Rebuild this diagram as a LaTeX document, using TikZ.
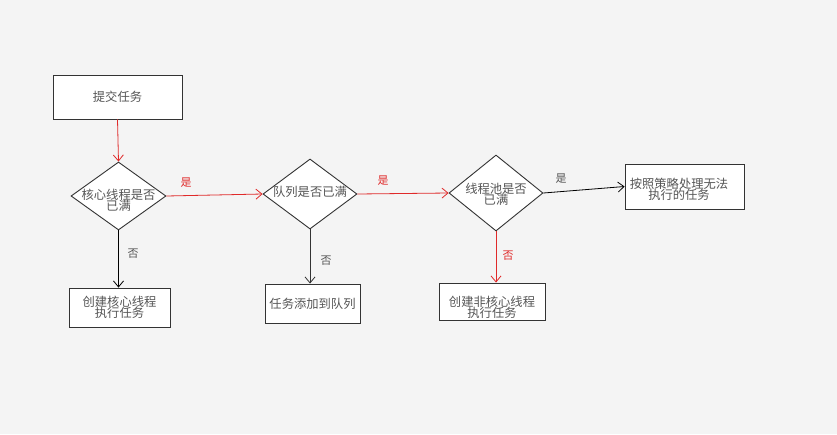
\documentclass[tikz,border=0pt]{standalone}
\usepackage{fontspec}
\newfontfamily\cjk{Noto Sans CJK SC}
\usetikzlibrary{shapes.geometric,arrows.meta}
\definecolor{bg}{HTML}{F4F4F4}
\definecolor{ink}{HTML}{555555}
\definecolor{edge}{HTML}{333333}
\definecolor{flowred}{HTML}{E02A2A}
% compact two-line captions
\newcommand{\tightcjk}{\cjk\fontsize{12.3}{11}\selectfont\lineskiplimit=-20pt\relax\lineskip=0pt\relax}
\tikzset{
  box/.style={draw=edge, fill=white, line width=0.9pt, inner sep=0pt},
  decision/.style={diamond, draw=edge, fill=white, line width=0.9pt, inner sep=0pt},
  txt/.style={text=ink, font=\tightcjk, align=center, inner sep=0pt},
  lbl/.style={font=\cjk\fontsize{11}{11}\selectfont, inner sep=0pt},
  link/.style={-{Straight Barb[length=6pt,width=10pt]}, line width=0.8pt},
}
\begin{document}
\begin{tikzpicture}[x=1pt,y=-1pt]
  \fill[bg] (0,0) rectangle (837,434);
  \useasboundingbox (0,0) rectangle (837,434);

  % start
  \node[box, minimum width=129pt, minimum height=44pt] (start) at (117.5,97) {};
  \node[txt] (tstart) at (117.5,97) {提交任务};

  % decisions
  \node[decision, minimum width=95pt, minimum height=68pt] (d1) at (118.5,196) {};
  \node[txt] (td1) at (118.5,200) {核心线程是否\\已满};
  \node[decision, minimum width=94pt, minimum height=70pt] (d2) at (310,194) {};
  \node[txt] (td2) at (310,192) {队列是否已满};
  \node[decision, minimum width=94pt, minimum height=76pt] (d3) at (496,193) {};
  \node[txt] (td3) at (496,194) {线程池是否\\已满};

  % outcomes
  \node[box, minimum width=119pt, minimum height=45pt] (reject) at (684.5,186.5) {};
  \node[txt] (treject) at (679,189) {按照策略处理无法\\执行的任务};
  \node[box, minimum width=101pt, minimum height=39pt] (core) at (119.5,307.5) {};
  \node[txt] (tcore) at (119.5,307.5) {创建核心线程\\执行任务};
  \node[box, minimum width=95pt, minimum height=39pt] (queue) at (312.5,303.5) {};
  \node[txt] (tqueue) at (312.5,304) {任务添加到队列};
  \node[box, minimum width=106pt, minimum height=37pt] (extra) at (492,301.5) {};
  \node[txt] (textra) at (492,307) {创建非核心线程\\执行任务};

  % connectors
  \draw[link, flowred] (start.south) -- (d1.north);
  \draw[link, flowred] (d1.east) -- (d2.west);
  \draw[link, flowred] (d2.east) -- (d3.west);
  \draw[link, black] (d3.east) -- (reject.west);
  \draw[link, black] (d1.south) -- (core.north -| d1.south);
  \draw[link, black!80] (d2.south) -- (queue.north -| d2.south);
  \draw[link, flowred] (d3.south) -- (extra.north -| d3.south);

  % branch labels
  \node[lbl, text=flowred] (y1) at (186,183) {是};
  \node[lbl, text=flowred] (y2) at (383,181) {是};
  \node[lbl, text=ink] (y3) at (561,179) {是};
  \node[lbl, text=ink] (n1) at (133,254) {否};
  \node[lbl, text=ink] (n2) at (326,261) {否};
  \node[lbl, text=flowred] (n3) at (508,256) {否};
\end{tikzpicture}
\end{document}
